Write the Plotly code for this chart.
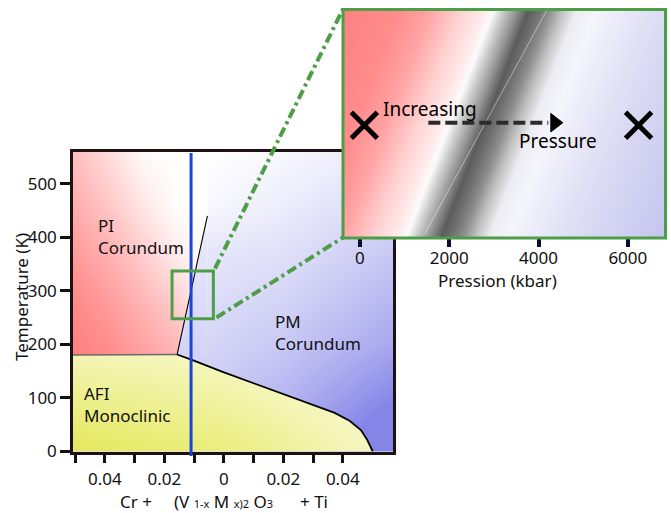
import plotly.graph_objects as go

W, H = 671, 513
FONT = "Noto Sans"
GREEN = "#4d9e47"
INK = "#111111"


def px(xp):
    return xp / W


def py(yp):
    return 1 - yp / H


# ---------------- main phase diagram: composition (x) vs temperature (K)
x_range = [-0.0507, 0.0569]
y_range = [0, 559]
x_tick_vals = [-0.05, -0.04, -0.03, -0.02, -0.01, 0.0, 0.01, 0.02, 0.03, 0.04]
x_tick_text = ["", "0.04", "", "0.02", "", "0", "", "0.02", "", "0.04"]
y_tick_vals = [0, 100, 200, 300, 400, 500]

# upper boundary of the AFI monoclinic phase
afi_x = [-0.0507, -0.0157, -0.0107, -0.0006, 0.0088, 0.0189, 0.0290, 0.0373,
         0.0424, 0.0461, 0.0481, 0.0494, 0.0501]
afi_y = [180, 181, 171, 149, 130, 109, 89, 72, 57, 40, 23, 8, 0]

# PI / PM first-order line
pi_pm_x = [-0.0157, -0.0055]
pi_pm_y = [181, 440]

# pure V2O3 composition line and zoomed window
v2o3_x = -0.0110
zoom_x = [-0.0174, -0.0035]
zoom_y = [248, 337]

# shading intensity grids (0 = white)
pm_shade_x = [-0.0507, -0.005, 0.02, 0.0569]
pm_shade_y = [0, 200, 380, 460, 559]
pm_shade_z = [[0.50, 0.50, 0.75, 1.25],
              [0.36, 0.34, 0.45, 0.72],
              [0.22, 0.20, 0.24, 0.44],
              [0.05, 0.06, 0.15, 0.32],
              [0.00, 0.00, 0.06, 0.18]]
pi_shade_x = [-0.0507, -0.0394, -0.0281, -0.0168, -0.00555, -0.0055]
pi_shade_y = [180, 180.3, 275, 370, 464, 559]
pi_shade_z = [[1.00, 0.90, 0.75, 0.60, 0.30, 0.30],
              [1.00, 0.90, 0.75, 0.60, 0.30, 0.30],
              [0.92, 0.78, 0.60, 0.40, 0.10, 0.10],
              [0.78, 0.62, 0.40, 0.15, 0.00, 0.00],
              [0.64, 0.44, 0.20, 0.02, 0.00, 0.00],
              [0.50, 0.28, 0.05, 0.00, 0.00, 0.00]]

region_text = ["PI<br>Corundum", "PM<br>Corundum", "AFI<br>Monoclinic"]
region_x = [-0.0429, 0.0165, -0.0478]
region_y = [401, 222, 87]

# ---------------- inset: pressure (kbar)
inset_x_range = [-377, 6854]
inset_y_range = [0, 1]
inset_tick_vals = [0, 2000, 4000, 6000]
band_x = [-377, 6854]
band_y = [0, 1]
band_z = [[-377, 6854], [-2347, 4884]]
band_center = 1800
band_offset = [-4254, -2911, -2239, -1455, -1008, -784, -560, -269, 0, 224,
               470, 784, 1075, 1523, 2239, 3023, 5038]
band_color = ["#ff8080", "#ff8c8c", "#ffa2a2", "#ffd4d4", "#ffeaea", "#fbfbfb",
              "#cdcdcd", "#959595", "#5c5c5c", "#707070", "#8c8c8c", "#c4c4c4",
              "#ececf2", "#f5f5fc", "#e8e8f8", "#dcdcf4", "#c4c4f0"]
state_p = [100, 6240]
state_y = [0.492, 0.492]
arrow_p = [1533, 4219]
arrow_y = [0.5035, 0.5035]
arrow_tip_p = [4365]
glint_p = [4199, 1459]
glint_y = [1.0, 0.02]
inset_text = ["Increasing", "Pressure"]
inset_text_p = [1571, 4425]
inset_text_y = [0.562, 0.422]

PM_LOW = (255, 255, 255)
PM_HIGH = (133, 133, 232)


def pm_colour(xv, yv):
    """colour of the PM shading at a point (bilinear in the grid)."""
    def locate(arr, v):
        for i in range(len(arr) - 1):
            if arr[i] <= v <= arr[i + 1]:
                return i, (v - arr[i]) / (arr[i + 1] - arr[i])
        return (0, 0.0) if v < arr[0] else (len(arr) - 2, 1.0)
    i, fx = locate(pm_shade_x, xv)
    j, fy = locate(pm_shade_y, yv)
    z0 = pm_shade_z[j][i] * (1 - fx) + pm_shade_z[j][i + 1] * fx
    z1 = pm_shade_z[j + 1][i] * (1 - fx) + pm_shade_z[j + 1][i + 1] * fx
    z = min(max(z0 * (1 - fy) + z1 * fy, 0), 1)
    c = [round(a + (b - a) * z) for a, b in zip(PM_LOW, PM_HIGH)]
    return "rgb(%d,%d,%d)" % tuple(c)


fig = go.Figure()

# PM region shading (full frame, later covered by the other phases)
fig.add_trace(go.Heatmap(
    x=pm_shade_x, y=pm_shade_y, z=pm_shade_z, zsmooth="best", zmin=0, zmax=1,
    colorscale=[[0, "rgb(%d,%d,%d)" % PM_LOW], [1, "rgb(%d,%d,%d)" % PM_HIGH]],
    showscale=False, hoverinfo="skip", xaxis="x", yaxis="y"))
# PI region shading
fig.add_trace(go.Heatmap(
    x=pi_shade_x, y=pi_shade_y, z=pi_shade_z, zsmooth="best", zmin=0, zmax=1,
    colorscale=[[0, "#ffffff"], [1, "#ff7e7e"]], showscale=False,
    hoverinfo="skip", xaxis="x", yaxis="y"))
# PM wedge right of the PI/PM line
wedge_bottom = 178
wedge_levels = [wedge_bottom, 200, 280, 380, pi_pm_y[1]]
wedge_scale = [[(v - wedge_bottom) / (pi_pm_y[1] - wedge_bottom), pm_colour(pi_pm_x[1], v)]
               for v in wedge_levels]
fig.add_trace(go.Scatter(
    x=[pi_pm_x[0], pi_pm_x[1], pi_pm_x[1] + 0.0001, pi_pm_x[1] + 0.0001, pi_pm_x[0]],
    y=[pi_pm_y[0], pi_pm_y[1], pi_pm_y[1], wedge_bottom, wedge_bottom],
    mode="none", fill="toself",
    fillgradient=dict(type="vertical", start=wedge_bottom, stop=pi_pm_y[1],
                      colorscale=wedge_scale),
    hoverinfo="skip"))
# AFI monoclinic region
yel_x = afi_x + [afi_x[-1], afi_x[0]]
yel_y = afi_y + [0, 0]
fig.add_trace(go.Scatter(
    x=yel_x, y=yel_y, mode="none", fill="toself",
    fillgradient=dict(type="horizontal", start=afi_x[0], stop=afi_x[-1],
                      colorscale=[[0, "#e4e85a"], [0.5, "#ebee7c"], [1, "#f5f6c0"]]),
    hoverinfo="skip"))
fig.add_trace(go.Scatter(
    x=yel_x, y=yel_y, mode="none", fill="toself",
    fillgradient=dict(type="vertical", start=0, stop=181,
                      colorscale=[[0, "rgba(255,255,255,0)"], [1, "rgba(255,255,255,0.55)"]]),
    hoverinfo="skip"))
# boundaries
fig.add_trace(go.Scatter(x=afi_x[:2], y=afi_y[:2], mode="lines",
                         line=dict(color="#6a6a6a", width=1.5), hoverinfo="skip"))
fig.add_trace(go.Scatter(x=afi_x[1:], y=afi_y[1:], mode="lines",
                         line=dict(color="#000000", width=1.8), hoverinfo="skip"))
fig.add_trace(go.Scatter(x=pi_pm_x, y=pi_pm_y, mode="lines",
                         line=dict(color="#000000", width=1.1), hoverinfo="skip"))

# ---------------- inset
span = band_offset[-1] - band_offset[0]
band_scale = [[(o - band_offset[0]) / span, c] for o, c in zip(band_offset, band_color)]
fig.add_trace(go.Heatmap(
    x=band_x, y=band_y, z=band_z, zsmooth="best",
    zmin=band_center + band_offset[0], zmax=band_center + band_offset[-1],
    colorscale=band_scale, showscale=False, hoverinfo="skip",
    xaxis="x2", yaxis="y2"))
fig.add_trace(go.Scatter(x=glint_p, y=glint_y, mode="lines", xaxis="x2", yaxis="y2",
                         line=dict(color="rgba(255,255,255,0.45)", width=1), hoverinfo="skip"))
fig.add_trace(go.Scatter(x=arrow_p, y=arrow_y, mode="lines", xaxis="x2", yaxis="y2",
                         line=dict(color="#2b2b2b", width=4, dash="12px,5px"), hoverinfo="skip"))
fig.add_trace(go.Scatter(x=arrow_tip_p, y=arrow_y[:1], mode="markers", xaxis="x2", yaxis="y2",
                         marker=dict(symbol="triangle-right", size=16, color="#000000",
                                     line=dict(color="#000000", width=1)),
                         hoverinfo="skip"))
fig.add_trace(go.Scatter(x=state_p, y=state_y, mode="markers", xaxis="x2", yaxis="y2",
                         marker=dict(symbol="x-thin", size=26,
                                     line=dict(color="#000000", width=5)),
                         hoverinfo="skip"))

annotations = []
for t, xv, yv in zip(region_text, region_x, region_y):
    annotations.append(dict(text=t, x=xv, y=yv, xref="x", yref="y", showarrow=False,
                            xanchor="left", yanchor="middle", align="left",
                            font=dict(family=FONT, size=17, color=INK)))
for t, xv, yv in zip(inset_text, inset_text_p, inset_text_y):
    annotations.append(dict(text=t, x=xv, y=yv, xref="x2", yref="y2", showarrow=False,
                            xanchor="center", yanchor="middle",
                            font=dict(family=FONT, size=19, color="#000000")))
annotations += [
    dict(text="Temperature (K)", x=px(21), y=py(297), xref="paper", yref="paper",
         textangle=-90, showarrow=False, xanchor="center", yanchor="middle",
         font=dict(family=FONT, size=17, color=INK)),
    dict(text="Cr +", x=px(136), y=py(501), xref="paper", yref="paper", showarrow=False,
         xanchor="center", yanchor="middle", font=dict(family=FONT, size=17, color=INK)),
    dict(text="(V <span style='font-size:11px'>1-x</span> M <span style='font-size:11px'>x)2</span>"
              " O<span style='font-size:11px'>3</span>",
         x=px(223.5), y=py(501), xref="paper", yref="paper", showarrow=False,
         xanchor="center", yanchor="middle", font=dict(family=FONT, size=17, color=INK)),
    dict(text="+ Ti", x=px(313.5), y=py(501), xref="paper", yref="paper", showarrow=False,
         xanchor="center", yanchor="middle", font=dict(family=FONT, size=17, color=INK)),
    dict(text="Pression (kbar)", x=px(497), y=py(280), xref="paper", yref="paper",
         showarrow=False, xanchor="center", yanchor="middle",
         font=dict(family=FONT, size=17, color=INK)),
]

shapes = [
    dict(type="line", xref="x", yref="paper", x0=v2o3_x, x1=v2o3_x, y0=py(456), y1=py(153),
         line=dict(color="#1b45d6", width=3), layer="above"),
    dict(type="rect", xref="x", yref="y", x0=zoom_x[0], x1=zoom_x[1], y0=zoom_y[0], y1=zoom_y[1],
         line=dict(color=GREEN, width=3), layer="above"),
    dict(type="line", xref="paper", yref="paper", x0=px(215), y0=py(268.5), x1=px(343), y1=py(9),
         line=dict(color=GREEN, width=4, dash="10px,4px,3px,4px"), layer="above"),
    dict(type="line", xref="paper", yref="paper", x0=px(216.5), y0=py(317.5), x1=px(343), y1=py(237.5),
         line=dict(color=GREEN, width=4, dash="10px,4px,3px,4px"), layer="above"),
    dict(type="rect", xref="paper", yref="paper", x0=px(343), x1=px(665.5), y0=py(238), y1=py(9.5),
         line=dict(color=GREEN, width=3), layer="above"),
]

fig.update_layout(
    template="none",
    width=W, height=H, margin=dict(l=0, r=0, t=0, b=0, pad=0, autoexpand=False),
    paper_bgcolor="white", plot_bgcolor="white", showlegend=False, hovermode=False,
    font=dict(family=FONT, size=17, color=INK),
    xaxis=dict(domain=[px(73), px(393)], range=x_range, anchor="y", automargin=False,
               tickmode="array", tickvals=x_tick_vals, ticktext=x_tick_text,
               ticks="outside", ticklen=9, tickwidth=2.5, tickcolor="#111",
               ticklabelstandoff=1,
               showline=True, mirror=True, linecolor="#1d1111", linewidth=2.5,
               showgrid=False, zeroline=False, tickfont=dict(size=17, color=INK)),
    yaxis=dict(domain=[py(451.5), py(152)], range=y_range, anchor="x", automargin=False,
               tickmode="array", tickvals=y_tick_vals,
               ticks="outside", ticklen=10, tickwidth=3, tickcolor="#111",
               showline=True, mirror=True, linecolor="#1d1111", linewidth=2.5,
               showgrid=False, zeroline=False, tickfont=dict(size=17, color=INK)),
    xaxis2=dict(domain=[px(343), px(666)], range=inset_x_range, anchor="y2", automargin=False,
                tickmode="array", tickvals=inset_tick_vals,
                ticks="outside", ticklen=8, tickwidth=4, tickcolor="#0c0c30",
                ticklabelstandoff=-3,
                showline=False, showgrid=False, zeroline=False,
                tickfont=dict(size=17, color=INK)),
    yaxis2=dict(domain=[py(238), py(9)], range=inset_y_range, anchor="x2", automargin=False,
                visible=False, showgrid=False, zeroline=False),
    annotations=annotations, shapes=shapes,
)

fig.write_html("out.html", config={"displayModeBar": False},
               post_script="document.body.style.margin='0px';")
